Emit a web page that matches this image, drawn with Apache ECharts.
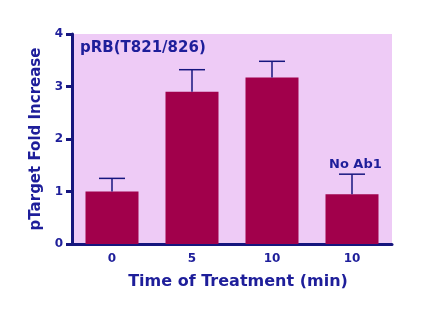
<!DOCTYPE html>
<html>
<head>
<meta charset="utf-8">
<script src="https://cdn.jsdelivr.net/npm/echarts@6/dist/echarts.min.js"></script>
<style>
  html, body { margin: 0; padding: 0; background: #fff; }
  #chart { width: 440px; height: 310px; }
</style>
</head>
<body>
<div id="chart"></div>
<script>
var categories = ['0', '5', '10', '10'];
var foldIncrease = [1.0, 2.9, 3.17, 0.95];
var errorUp = [0.25, 0.42, 0.31, 0.38];
var yTicks = [0, 1, 2, 3, 4];

var navy = '#1e1e9a';
var axisNavy = '#16167e';
var font = 'DejaVu Sans, Verdana, sans-serif';

var myChart = echarts.init(document.getElementById('chart'));

var errData = foldIncrease.map(function (v, i) { return [i, v, v + errorUp[i]]; });

var option = {
    animation: false,
    grid: {
        left: 72, right: 48, top: 34, bottom: 66,
        show: true, backgroundColor: '#eecbf6', borderWidth: 0
    },
    xAxis: {
        type: 'category',
        data: categories,
        name: 'Time of Treatment (min)',
        nameLocation: 'middle',
        nameGap: 30,
        nameTextStyle: { color: navy, fontFamily: font, fontWeight: 'bold', fontSize: 16, padding: [0, 0, 0, 12] },
        axisLine: { lineStyle: { color: axisNavy, width: 3 } },
        axisTick: { show: false },
        axisLabel: { color: navy, fontFamily: font, fontWeight: 'bold', fontSize: 12, margin: 9 }
    },
    yAxis: {
        type: 'value',
        min: yTicks[0], max: yTicks[yTicks.length - 1], interval: 1,
        name: 'pTarget Fold Increase',
        nameLocation: 'middle',
        nameGap: 27,
        nameTextStyle: { color: navy, fontFamily: font, fontWeight: 'bold', fontSize: 15 },
        axisLine: { show: true, lineStyle: { color: axisNavy, width: 3 } },
        axisTick: { show: true, length: 6, lineStyle: { color: axisNavy, width: 3 } },
        axisLabel: { color: navy, fontFamily: font, fontWeight: 'bold', fontSize: 12, margin: 9 },
        splitLine: { show: false }
    },
    graphic: [
        { type: 'text', left: 80, top: 41,
          style: { text: 'pRB(T821/826)', fill: navy, font: 'bold 15px ' + font } },
        { type: 'text', left: 329, top: 158,
          style: { text: 'No Ab1', fill: navy, font: 'bold 13px ' + font } }
    ],
    series: [
        {
            type: 'bar',
            data: foldIncrease,
            barWidth: 53,
            itemStyle: { color: '#a1004b' }
        },
        {
            type: 'custom',
            data: errData,
            z: 3,
            renderItem: function (params, api) {
                var base = api.coord([api.value(0), api.value(1)]);
                var top = api.coord([api.value(0), api.value(2)]);
                var half = 13;
                var st = { stroke: axisNavy, lineWidth: 1.5 };
                return {
                    type: 'group',
                    children: [
                        { type: 'line', shape: { x1: base[0], y1: base[1], x2: top[0], y2: top[1] }, style: st },
                        { type: 'line', shape: { x1: top[0] - half, y1: top[1], x2: top[0] + half, y2: top[1] }, style: st }
                    ]
                };
            }
        }
    ]
};

myChart.setOption(option);
</script>
</body>
</html>
